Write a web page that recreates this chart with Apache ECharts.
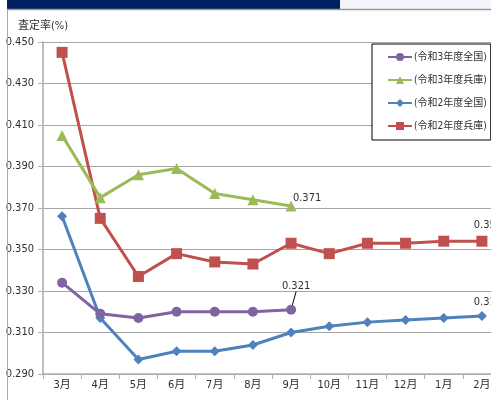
<!DOCTYPE html>
<html>
<head>
<meta charset="utf-8">
<script src="https://cdn.jsdelivr.net/npm/echarts@6/dist/echarts.min.js"></script>
<style>
  html, body { margin: 0; padding: 0; background: #ffffff; }
  #chart { width: 491px; height: 400px; }
</style>
</head>
<body>
<div id="chart"></div>
<script>
// Months of the fiscal year (March to February)
const months = ['3月', '4月', '5月', '6月', '7月', '8月', '9月', '10月', '11月', '12月', '1月', '2月'];

// Assessment rate (%) by series
const r3National = [0.334, 0.319, 0.317, 0.320, 0.320, 0.320, 0.321];
const r3Hyogo    = [0.405, 0.375, 0.386, 0.389, 0.377, 0.374, 0.371];
const r2National = [0.366, 0.317, 0.297, 0.301, 0.301, 0.304, 0.310, 0.313, 0.315, 0.316, 0.317, 0.318];
const r2Hyogo    = [0.445, 0.365, 0.337, 0.348, 0.344, 0.343, 0.353, 0.348, 0.353, 0.353, 0.354, 0.354];

const seriesNames = ['(令和3年度全国)', '(令和3年度兵庫)', '(令和2年度全国)', '(令和2年度兵庫)'];
const yTicks = { min: 0.29, max: 0.45, step: 0.02 };
const yTitle = '査定率(%)';

const FONT = "'DejaVu Sans Condensed', 'Liberation Sans Narrow', 'Noto Sans CJK JP', sans-serif";
const TEXT = '#303030';

// show a value label on one point only
function labelled(values, index, extra) {
  return values.map((v, i) => i === index ? Object.assign({ value: v }, extra) : v);
}
const valueLabel = {
  show: true,
  fontFamily: FONT, fontSize: 11, color: TEXT,
  formatter: p => p.value.toFixed(3)
};

const chart = echarts.init(document.getElementById('chart'), null, { renderer: 'canvas' });

chart.setOption({
  animation: false,
  backgroundColor: '#ffffff',
  textStyle: { fontFamily: FONT },
  graphic: [
    { type: 'rect', shape: { x: 7, y: 0, width: 333, height: 9 }, style: { fill: '#002060' }, z: 10 },
    { type: 'rect', shape: { x: 340, y: 0, width: 151, height: 9 }, style: { fill: '#f3f5fa' }, z: 10 },
    { type: 'line', shape: { x1: 7, y1: 9.5, x2: 491, y2: 9.5 }, style: { stroke: '#9a9a9a', lineWidth: 1.5 }, z: 10 },
    { type: 'line', shape: { x1: 7.5, y1: 9, x2: 7.5, y2: 400 }, style: { stroke: '#a8a8a8', lineWidth: 1 }, z: 10 },
    { type: 'text', left: 18, top: 21, style: { text: yTitle, fontFamily: FONT, fontSize: 11, fill: TEXT }, z: 10 }
  ],
  grid: { left: 43, top: 42, width: 458, height: 332, containLabel: false, outerBoundsMode: 'none' },
  legend: {
    orient: 'vertical',
    left: 372, top: 44,
    padding: [8, 4, 9, 15],
    itemGap: 13,
    itemWidth: 24,
    itemHeight: 10,
    backgroundColor: '#ffffff',
    borderColor: '#000000',
    borderWidth: 1,
    borderRadius: 0,
    textStyle: { fontFamily: FONT, fontSize: 10, color: TEXT, padding: [0, 0, 0, -3] },
    data: seriesNames
  },
  xAxis: {
    type: 'category',
    data: months,
    boundaryGap: true,
    axisLine: { lineStyle: { color: '#b0b0b0', width: 1.5 } },
    axisTick: { show: true, alignWithLabel: false, length: 5, lineStyle: { color: '#b0b0b0' } },
    axisLabel: { fontFamily: FONT, fontSize: 11, color: TEXT, margin: 6, interval: 0 },
    splitLine: { show: false }
  },
  yAxis: {
    type: 'value',
    min: yTicks.min, max: yTicks.max, interval: yTicks.step,
    axisLine: { show: true, lineStyle: { color: '#bdbdbd', width: 2 } },
    axisTick: { show: true, length: 5, lineStyle: { color: '#b0b0b0' } },
    axisLabel: { fontFamily: FONT, fontSize: 11, color: TEXT, margin: 9, formatter: v => v.toFixed(3) },
    splitLine: { show: true, lineStyle: { color: '#a6a6a6', width: 1.2 } }
  },
  series: [
    {
      name: seriesNames[0], type: 'line',
      data: labelled(r3National, 6, {
        label: Object.assign({ position: 'top', distance: 4 }, valueLabel),
        labelLine: { show: true, length2: 0, lineStyle: { color: '#000000', width: 1 } }
      }),
      color: '#8064a2', symbol: 'circle', symbolSize: 10,
      lineStyle: { width: 3 },
      labelLayout: { dx: 5, dy: -9 },
      labelLine: { show: true, length2: 0, lineStyle: { color: '#000000', width: 1 } },
      z: 4
    },
    {
      name: seriesNames[1], type: 'line',
      data: labelled(r3Hyogo, 6, { label: Object.assign({ position: 'top', offset: [16, 8] }, valueLabel) }),
      color: '#9bbb59', symbol: 'triangle', symbolSize: 11,
      lineStyle: { width: 3 },
      z: 3
    },
    {
      name: seriesNames[2], type: 'line',
      data: labelled(r2National, 11, { label: Object.assign({ position: 'top', offset: [6, 2] }, valueLabel) }),
      color: '#4f81bd', symbol: 'diamond', symbolSize: 10,
      lineStyle: { width: 3 },
      z: 2
    },
    {
      name: seriesNames[3], type: 'line',
      data: labelled(r2Hyogo, 11, { label: Object.assign({ position: 'top', offset: [6, 0] }, valueLabel) }),
      color: '#c0504d', symbol: 'rect', symbolSize: 11,
      lineStyle: { width: 3 },
      z: 1
    }
  ]
});
</script>
</body>
</html>
